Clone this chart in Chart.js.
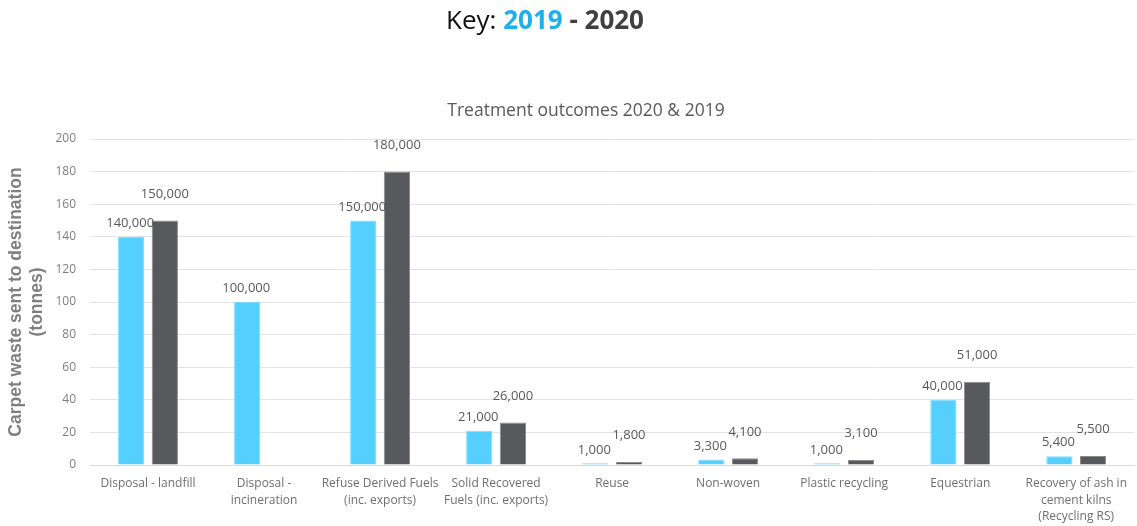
<!DOCTYPE html>
<html>
<head>
<meta charset="utf-8">
<script src="https://cdn.jsdelivr.net/npm/chart.js@4.4.1/dist/chart.umd.min.js"></script>
<style>
  body { margin: 0; background: #fff; }
  #key {
    position: absolute; top: 1px; left: 545px; transform: translateX(-50%);
    white-space: nowrap; font-family: "Open Sans", sans-serif; font-size: 26px; color: #111;
  }
  #key b { font-weight: 700; }
  .y19 { color: #1fb0e8; }
  .y20 { color: #404040; }
  #subtitle {
    position: absolute; top: 97px; left: 586px; transform: translateX(-50%);
    white-space: nowrap; font-family: "Open Sans", sans-serif; font-size: 17.5px; color: #595959;
  }
  #wrap { position: absolute; top: 0; left: 0; width: 1137px; height: 526px; }
</style>
</head>
<body>
<div id="wrap"><canvas id="myChart"></canvas></div>
<div id="key">Key: <b class="y19">2019</b> <b class="y20">- 2020</b></div>
<div id="subtitle">Treatment outcomes 2020 &amp; 2019</div>
<script>
let categories = [
    "Disposal - landfill",
    ["Disposal -", "incineration"],
    ["Refuse Derived Fuels", "(inc. exports)"],
    ["Solid Recovered", "Fuels (inc. exports)"],
    "Reuse",
    "Non-woven",
    "Plastic recycling",
    "Equestrian",
    ["Recovery of ash in", "cement kilns", "(Recycling RS)"]
];

// thousands of tonnes
let values2019 = [140, 100, 150, 21, 1, 3.3, 1, 40, 5.4];
let values2020 = [150, null, 180, 26, 1.8, 4.1, 3.1, 51, 5.5];

let yTicks = [0, 20, 40, 60, 80, 100, 120, 140, 160, 180, 200];

let ctx = document.getElementById('myChart');

// writes "140,000" style labels over each bar
let valueLabels = {
    id: 'valueLabels',
    afterDatasetsDraw(chart) {
        let c = chart.ctx;
        c.save();
        c.font = '13px "Open Sans", sans-serif';
        c.fillStyle = '#595959';
        c.textAlign = 'center';
        c.textBaseline = 'bottom';
        chart.data.datasets.forEach((ds, i) => {
            let meta = chart.getDatasetMeta(i);
            meta.data.forEach((bar, j) => {
                let v = ds.data[j];
                if (v == null) return;
                let text = Math.round(v * 1000).toLocaleString('en-US');
                let dx = i == 0 ? -1 : 0;
                let dy = i == 0 ? 7 : 20;
                c.fillText(text, bar.x + dx, bar.y - dy);
            });
        });
        c.restore();
    }
};

function makeChart() {
    new Chart(ctx, {
        type: 'bar',
        data: {
            labels: categories,
            datasets: [
                {
                    label: '2019',
                    data: values2019,
                    backgroundColor: '#55cffd',
                    borderColor: '#7fdcff',
                    borderWidth: 1,
                    barPercentage: 0.78,
                    categoryPercentage: 0.58
                },
                {
                    label: '2020',
                    data: values2020,
                    backgroundColor: '#58595c',
                    borderColor: '#8c8c8e',
                    borderWidth: 1,
                    barPercentage: 0.78,
                    categoryPercentage: 0.58
                }
            ]
        },
        options: {
            responsive: true,
            maintainAspectRatio: false,
            animation: false,
            layout: { padding: { top: 139, left: 6, right: 0, bottom: 0 } },
            plugins: {
                legend: { display: false },
                tooltip: { enabled: false },
                title: { display: false }
            },
            scales: {
                x: {
                    afterFit(axis) {
                        axis.height = 61;
                    },
                    grid: { display: false, drawTicks: false, tickLength: 0 },
                    border: { color: '#d9d9d9' },
                    ticks: {
                        color: '#6f6f6f',
                        font: { family: '"Open Sans", sans-serif', size: 12, lineHeight: 1.4 },
                        maxRotation: 0,
                        autoSkip: false,
                        padding: 10
                    }
                },
                y: {
                    min: 0,
                    max: 200,
                    afterBuildTicks(axis) {
                        axis.ticks = yTicks.map(v => ({ value: v }));
                    },
                    afterFit(axis) {
                        axis.width = 84;
                    },
                    grid: { color: '#e3e3e3', drawTicks: false },
                    border: { display: false },
                    ticks: {
                        color: '#7f7f7f',
                        font: { family: '"Open Sans", sans-serif', size: 12 },
                        padding: 14
                    },
                    title: {
                        display: true,
                        text: ['Carpet waste sent to destination', '(tonnes)'],
                        color: '#7f7f7f',
                        font: { family: '"Liberation Sans", Arial, sans-serif', size: 17.5, weight: 'bold', lineHeight: 1.2 },
                        padding: { top: 0, bottom: 4 }
                    }
                }
            }
        },
        plugins: [valueLabels]
    });
}

makeChart();
</script>
</body>
</html>
